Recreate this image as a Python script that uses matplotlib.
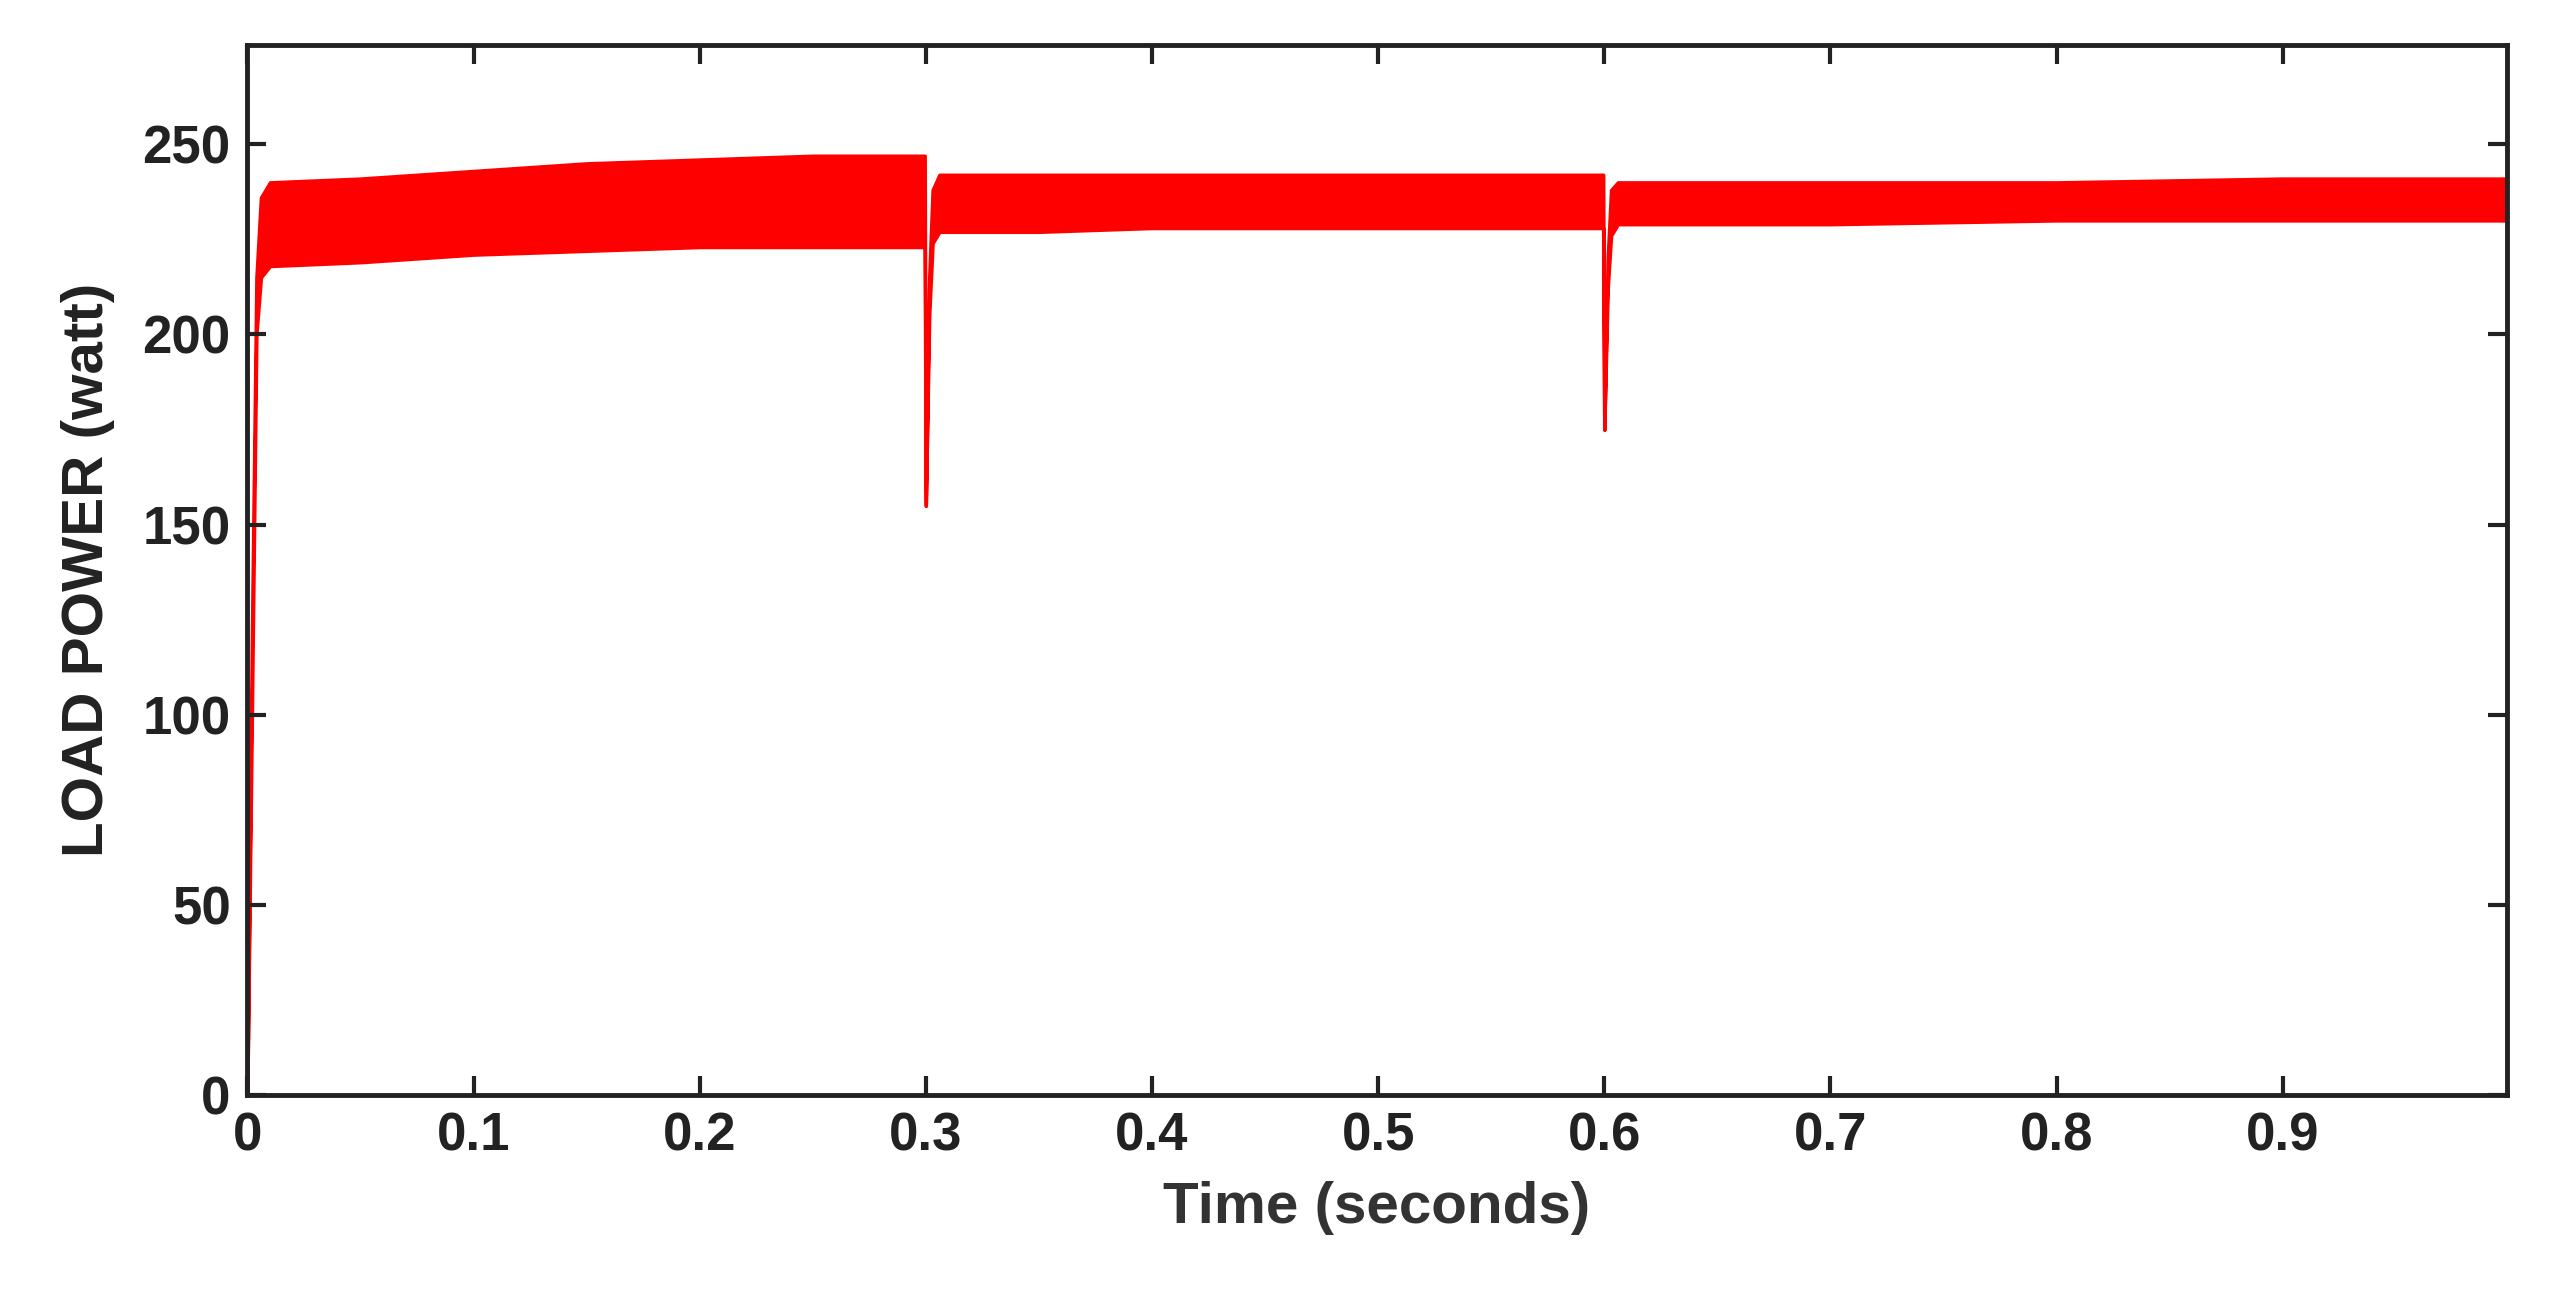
import numpy as np
import matplotlib.pyplot as plt

# envelope of the load power ripple band
t_pts = [0.0, 0.002, 0.004, 0.006, 0.01, 0.05, 0.1, 0.15, 0.2, 0.25, 0.2995,
         0.3, 0.3015, 0.303, 0.306, 0.35, 0.4, 0.5, 0.5995,
         0.6, 0.6015, 0.603, 0.606, 0.65, 0.7, 0.8, 0.9, 1.0]
upper = [0, 120, 215, 236, 240, 241, 243, 245, 246, 247, 247,
         155, 215, 238, 242, 242, 242, 242, 242,
         175, 220, 238, 240, 240, 240, 240, 241, 241]
lower = [0, 100, 200, 215, 218, 219, 221, 222, 223, 223, 223,
         155, 205, 224, 227, 227, 228, 228, 228,
         175, 212, 226, 229, 229, 229, 230, 230, 230]

plt.rcParams['font.family'] = ['Liberation Sans', 'DejaVu Sans']
plt.rcParams['font.weight'] = 'bold'

fig = plt.figure(figsize=(25.5, 12.99), dpi=100)
ax = fig.add_axes([0.097, 0.157, 0.886, 0.808])

t = np.array(t_pts)
ax.fill_between(t, lower, upper, color='red', lw=2.5, edgecolor='red')

ax.set_xlim(0, 0.999)
ax.set_ylim(0, 276)
ax.set_xticks(np.arange(0, 1.0, 0.1))
ax.set_xticklabels(['0'] + ['%.1f' % v for v in np.arange(0.1, 1.0, 0.1)])
ax.set_yticks([0, 50, 100, 150, 200, 250])
ax.tick_params(direction='in', length=14, width=3, labelsize=38,
               top=True, right=True, pad=12, colors='#222222')
for s in ax.spines.values():
    s.set_linewidth(3.5)
    s.set_color('#222222')
ax.set_xlabel('Time (seconds)', fontsize=42, fontweight='bold', color='#333333', labelpad=14)
ax.set_ylabel('LOAD POWER (watt)', fontsize=42, fontweight='bold', color='#222222', labelpad=20)

fig.savefig('out.png', dpi=100)
